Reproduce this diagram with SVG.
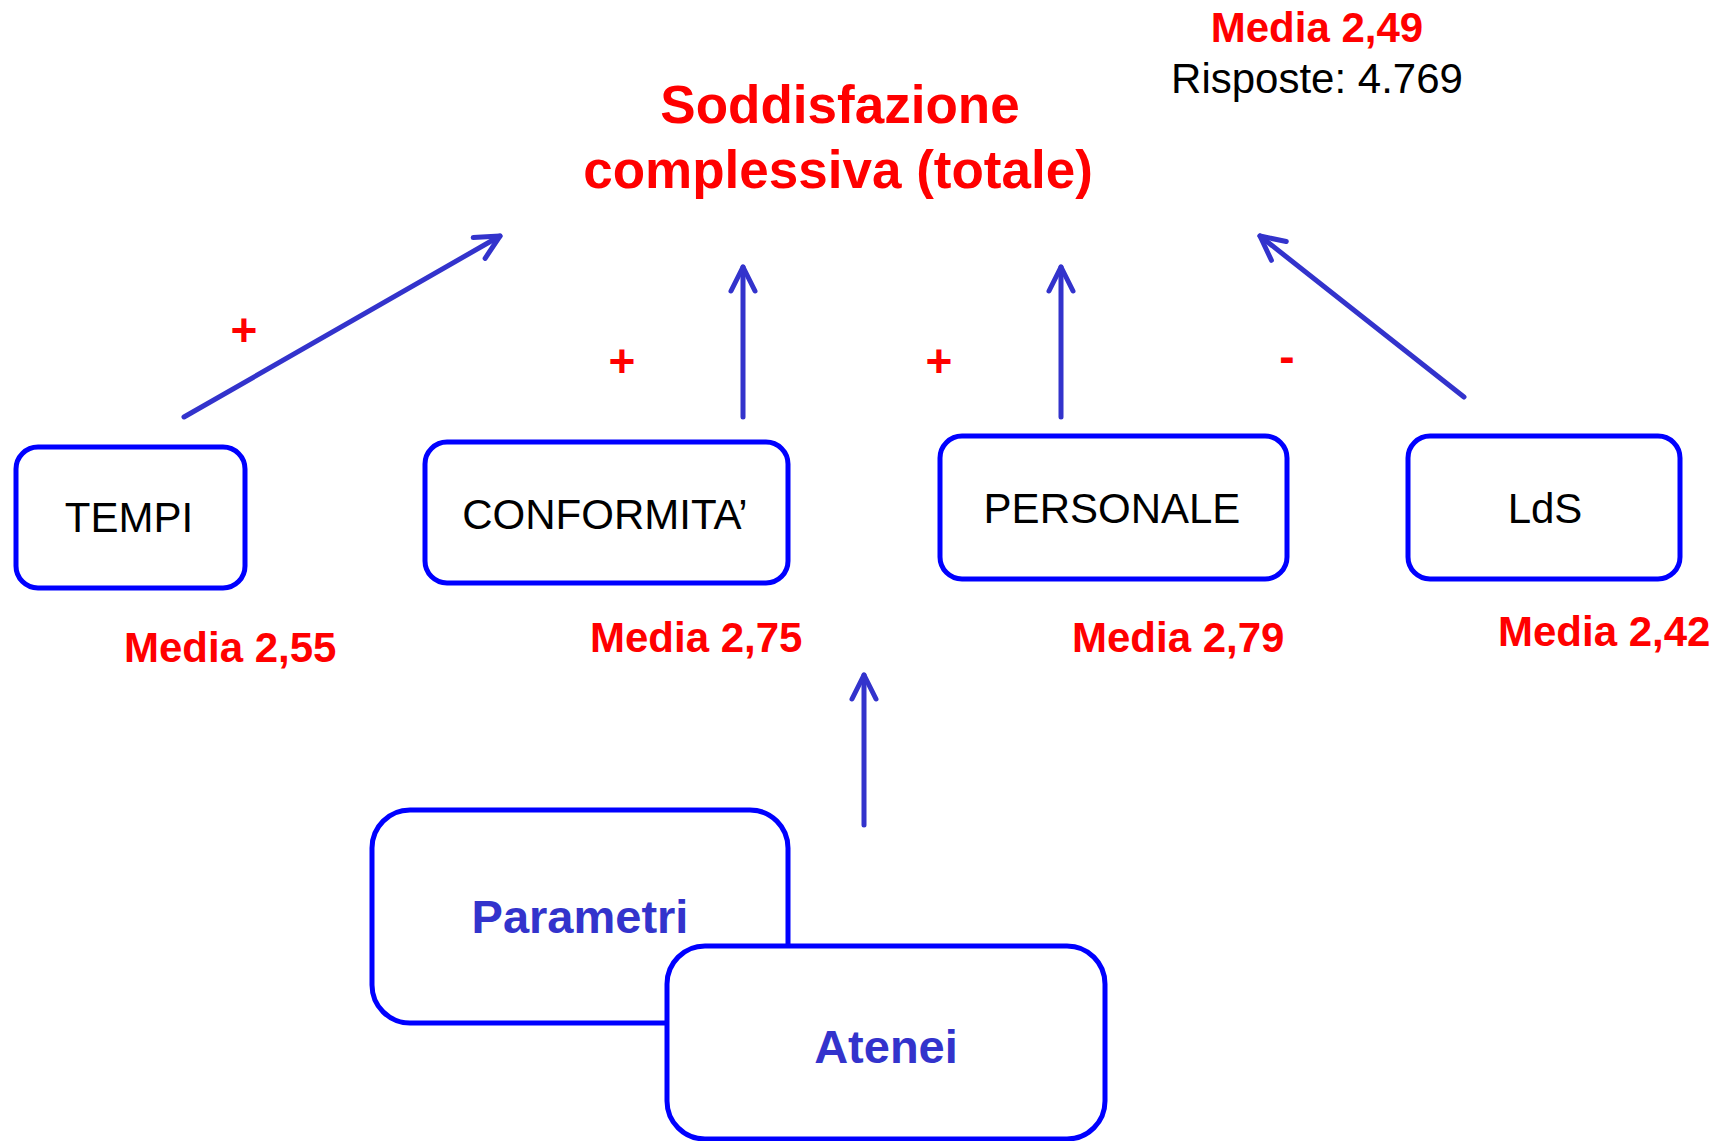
<svg xmlns="http://www.w3.org/2000/svg" width="1726" height="1141" viewBox="0 0 1726 1141">
<defs>
<style>
.box{fill:#FFFFFF;stroke:#0000FF;stroke-width:5}
.lbl{font-family:"Liberation Sans",Arial,sans-serif;font-size:42px;fill:#000000;text-anchor:middle}
.med{font-family:"Liberation Sans",Arial,sans-serif;font-size:42px;font-weight:bold;fill:#FF0000}
.sign{font-family:"Liberation Sans",Arial,sans-serif;font-size:46px;font-weight:bold;fill:#FF0000;text-anchor:middle}
.title{font-family:"Liberation Sans",Arial,sans-serif;font-size:53px;font-weight:bold;fill:#FF0000;text-anchor:middle}
.blu{font-family:"Liberation Sans",Arial,sans-serif;font-size:47px;font-weight:bold;fill:#3333CC;text-anchor:middle}
.arr{stroke:#3333CC;stroke-width:5;fill:none;stroke-linecap:round;marker-end:url(#ah)}
</style>
<marker id="ah" markerUnits="userSpaceOnUse" viewBox="-30 -16 34 32" refX="0" refY="0" markerWidth="34" markerHeight="32" orient="auto">
<path d="M -24 -12 L 0 0 L -24 12" fill="none" stroke="#3333CC" stroke-width="5" stroke-linecap="round" stroke-linejoin="round"/>
</marker>
</defs>
<rect width="1726" height="1141" fill="#FFFFFF"/>
<g id="title">
<text class="title" x="840" y="123">Soddisfazione</text>
<text class="title" x="838" y="188">complessiva (totale)</text>
</g>
<g id="summary">
<text class="med" x="1317" y="42" text-anchor="middle">Media 2,49</text>
<text class="lbl" x="1317" y="93">Risposte: 4.769</text>
</g>
<g id="connectors">
<line class="arr" x1="184" y1="417" x2="500" y2="236"/>
<line class="arr" x1="743" y1="417" x2="743" y2="267"/>
<line class="arr" x1="1061" y1="417" x2="1061" y2="267"/>
<line class="arr" x1="1464" y1="397" x2="1260" y2="236"/>
<line class="arr" x1="864" y1="825" x2="864" y2="675"/>
<text class="sign" x="244" y="346">+</text>
<text class="sign" x="622" y="377">+</text>
<text class="sign" x="939" y="377">+</text>
<text class="sign" x="1287" y="372">-</text>
</g>
<g id="tempi">
<rect class="box" x="16" y="447" width="229" height="141" rx="22"/>
<text class="lbl" x="129" y="532">TEMPI</text>
<text class="med" x="124" y="662">Media 2,55</text>
</g>
<g id="conformita">
<rect class="box" x="425" y="442" width="363" height="141" rx="22"/>
<text class="lbl" x="605" y="529">CONFORMITA’</text>
<text class="med" x="590" y="652">Media 2,75</text>
</g>
<g id="personale">
<rect class="box" x="940" y="436" width="347" height="143" rx="22"/>
<text class="lbl" x="1112" y="523">PERSONALE</text>
<text class="med" x="1072" y="652">Media 2,79</text>
</g>
<g id="lds">
<rect class="box" x="1408" y="436" width="272" height="143" rx="22"/>
<text class="lbl" x="1545" y="523">LdS</text>
<text class="med" x="1498" y="646">Media 2,42</text>
</g>
<g id="parametri">
<rect class="box" x="372" y="810" width="416" height="213" rx="38"/>
<text class="blu" x="580" y="933">Parametri</text>
</g>
<g id="atenei">
<rect class="box" x="667" y="946" width="438" height="193" rx="38"/>
<text class="blu" x="886" y="1063">Atenei</text>
</g>
</svg>
